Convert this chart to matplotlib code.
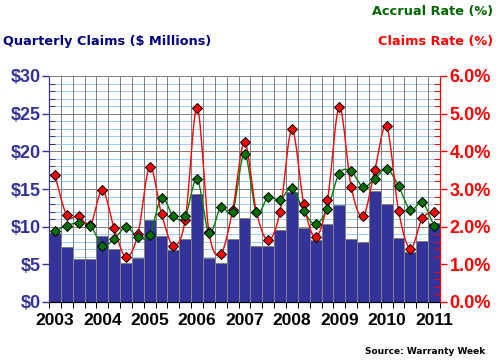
import numpy as np
import matplotlib.pyplot as plt
from matplotlib.ticker import MultipleLocator, FixedLocator

# quarterly data 2003Q1 .. 2011Q1
years = ['2003', '2004', '2005', '2006', '2007', '2008', '2009', '2010', '2011']
claims = [9.1, 7.3, 5.7, 5.7, 8.8, 7.0, 5.2, 5.8,
          10.9, 8.8, 6.9, 8.4, 14.3, 5.9, 5.2, 8.4,
          11.1, 7.4, 7.4, 9.5, 14.6, 9.8, 8.2, 10.3,
          12.9, 8.4, 7.9, 14.8, 13.0, 8.5, 6.6, 8.1, 10.5]
claims_rate = [3.37, 2.30, 2.28, 2.05, 2.97, 1.96, 1.19, 1.80,
               3.59, 2.33, 1.50, 2.19, 5.16, 1.86, 1.28, 2.44,
               4.24, 2.40, 1.64, 2.40, 4.58, 2.61, 1.72, 2.70,
               5.17, 3.06, 2.27, 3.51, 4.66, 2.42, 1.42, 2.22, 2.39]
accrual_rate = [1.88, 2.03, 2.10, 2.03, 1.50, 1.67, 1.99, 1.72,
                1.78, 2.77, 2.27, 2.28, 3.26, 1.83, 2.52, 2.40,
                3.94, 2.39, 2.79, 2.71, 3.03, 2.41, 2.07, 2.48,
                3.41, 3.47, 3.06, 3.27, 3.54, 3.08, 2.44, 2.65, 2.01]

NAVY = '#333399'
PX = 0.72  # one pixel in points


def smooth(x, y, n=16):
    # Bezier smoothing like a spreadsheet "smoothed line"
    x = np.asarray(x, float)
    y = np.asarray(y, float)
    xs, ys = [], []
    t = np.linspace(0, 1, n)
    for i in range(len(x) - 1):
        i0 = max(i - 1, 0)
        i3 = min(i + 2, len(x) - 1)
        p = []
        for v in (x, y):
            c1 = v[i] + (v[i + 1] - v[i0]) / 6
            c2 = v[i + 1] - (v[i3] - v[i]) / 6
            p.append((1 - t) ** 3 * v[i] + 3 * (1 - t) ** 2 * t * c1
                     + 3 * (1 - t) * t ** 2 * c2 + t ** 3 * v[i + 1])
        xs.append(p[0])
        ys.append(p[1])
    return np.concatenate(xs), np.concatenate(ys)


fig = plt.figure(figsize=(4.96, 3.63), dpi=100)
ax = fig.add_axes([49 / 496, 61 / 363, 391 / 496, 226 / 363])
ax2 = ax.twinx()

x = np.arange(len(claims))
ax.bar(x, claims, width=1.0, color=NAVY, edgecolor='#808080', linewidth=PX, zorder=3)

ax.set_xlim(-0.5, len(claims) - 0.5)
ax.set_ylim(0, 30)
ax2.set_ylim(0, 6)

# grid
for v in range(1, 30):
    ax.axhline(v, color='#99ccff' if v % 5 else '#808080', lw=PX, zorder=1)
ax.axhline(30, color='#808080', lw=PX, zorder=1)
for b in np.arange(-0.5, len(claims), 1.0):
    ax.axvline(b, color='#808080', lw=PX, zorder=1)

xs, ys = smooth(x, accrual_rate)
ax2.plot(xs, ys, color='#008000', lw=1.0, zorder=4)
xs, ys = smooth(x, claims_rate)
ax2.plot(xs, ys, color='#ff0000', lw=1.0, zorder=5)
ax2.plot(x, claims_rate, ls='none', marker='D', ms=5, mfc='#ff0000', mec='black', mew=0.7, zorder=6)
ax2.plot(x, accrual_rate, ls='none', marker='D', ms=5, mfc='#007000', mec='black', mew=0.7, zorder=7)

ax.set_zorder(1)
ax2.set_zorder(2)
ax.patch.set_visible(False)

tick_font = dict(family='Liberation Sans', weight='bold', size=13)

ax.set_yticks(range(0, 31, 5))
ax.set_yticklabels(['$%d' % v for v in range(0, 31, 5)], color='#333399', **tick_font)
ax.yaxis.set_minor_locator(MultipleLocator(1))
ax.tick_params(axis='y', which='major', direction='out', length=5, color='#333399', width=1, pad=1)
ax.tick_params(axis='y', which='minor', direction='in', length=4, color='#333399', width=PX)

ax2.set_yticks(np.arange(0, 6.01, 1))
ax2.set_yticklabels(['%.1f%%' % v for v in np.arange(0, 6.01, 1)], color='#ff0000', **tick_font)
ax2.yaxis.set_minor_locator(MultipleLocator(0.2))
ax2.tick_params(axis='y', which='major', direction='out', length=5, color='#ff0000', width=1, pad=2)
ax2.tick_params(axis='y', which='minor', direction='in', length=4, color='#ff0000', width=PX)

ax.set_xticks(np.arange(0, len(claims), 4))
ax.set_xticklabels(years, color='black', family='Liberation Sans', weight='bold', size=12.5)
ax.xaxis.set_minor_locator(FixedLocator(np.arange(-0.5, len(claims), 1.0)))
ax.tick_params(axis='x', which='major', length=0, pad=8)
ax.tick_params(axis='x', which='minor', direction='out', length=4, color='black', width=PX)

for a in (ax, ax2):
    a.spines['top'].set_color('#808080')
    a.spines['top'].set_linewidth(PX)
    a.spines['bottom'].set_color('black')
    a.spines['left'].set_color('#333399')
    a.spines['right'].set_color('#ff0000')

title_font = dict(family='DejaVu Sans', weight='bold', size=9.3)
fig.text(3 / 496, 1 - 42 / 363, 'Quarterly Claims ($ Millions)', color='#000080',
         va='center', ha='left', **title_font)
fig.text(493 / 496, 1 - 12 / 363, 'Accrual Rate (%)', color='#006600',
         va='center', ha='right', **title_font)
fig.text(493 / 496, 1 - 42 / 363, 'Claims Rate (%)', color='#ff0000',
         va='center', ha='right', **title_font)
fig.text(485 / 496, 1 - 352 / 363, 'Source: Warranty Week', color='black',
         va='center', ha='right', family='DejaVu Sans', weight='bold', size=6.5)

fig.savefig('out.png', dpi=100)
